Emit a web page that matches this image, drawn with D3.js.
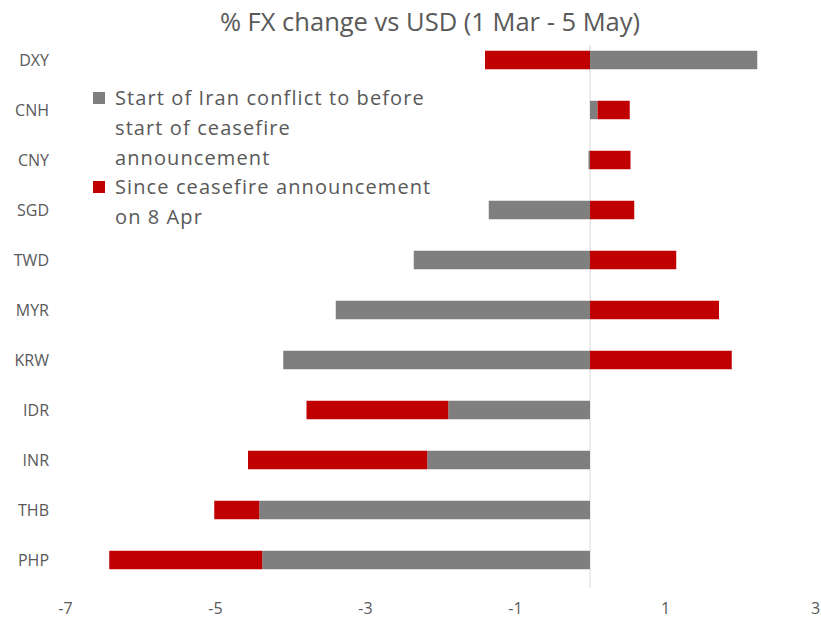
<!DOCTYPE html>
<html>
<head>
<meta charset="utf-8">
<script src="https://cdn.jsdelivr.net/npm/d3@7"></script>
<style>
  body { margin: 0; background: #fff; }
  svg text { fill: #595959; }
</style>
</head>
<body>
<svg id="chart" width="821" height="620"></svg>
<script>
// currencies, top to bottom
var currencies = ["DXY", "CNH", "CNY", "SGD", "TWD", "MYR", "KRW", "IDR", "INR", "THB", "PHP"];
// % change, start of Iran conflict to before ceasefire
var beforeCeasefire = [2.23, 0.1, -0.02, -1.35, -2.35, -3.39, -4.09, -1.89, -2.17, -4.41, -4.37];
// % change since ceasefire announcement on 8 Apr
var sinceCeasefire = [-1.4, 0.43, 0.54, 0.59, 1.15, 1.72, 1.89, -1.89, -2.39, -0.6, -2.04];
var xTicks = [-7, -5, -3, -1, 1, 3];
var seriesNames = ["Start of Iran conflict to before start of ceasefire announcement",
                   "Since ceasefire announcement on 8 Apr"];
var legendLines = [["Start of Iran conflict to before", "start of ceasefire", "announcement"],
                   ["Since ceasefire announcement", "on 8 Apr"]];

var colors = ["#7f7f7f", "#c00000"];
var font = "'Open Sans', sans-serif";

var svg = d3.select("#chart");
var margin = {top: 35, right: 6, bottom: 35, left: 65};

var rows = currencies.map(function (c, i) {
    return {ccy: c, a: beforeCeasefire[i], b: sinceCeasefire[i]};
});

var stack = d3.stack().keys(["a", "b"]).offset(d3.stackOffsetDiverging);
var layers = stack(rows);

var x = d3.scaleLinear().domain([-7, 3]).range([0, 750]);
var y = d3.scaleBand().domain(currencies).range([0, 550]).paddingInner(0.63).paddingOuter(0.315);

var g = svg.append("g").attr("transform", "translate(" + margin.left + "," + margin.top + ")");

// zero line
g.append("line")
    .attr("x1", x(0)).attr("x2", x(0))
    .attr("y1", 10).attr("y2", 553)
    .attr("stroke", "#d9d9d9").attr("stroke-width", 1);

g.selectAll("g.layer")
    .data(layers)
    .enter().append("g")
    .attr("class", "layer")
    .attr("fill", function (d, i) { return colors[i]; })
    .selectAll("rect")
    .data(function (d) { return d; })
    .enter().append("rect")
    .attr("x", function (d) { return x(Math.min(d[0], d[1])); })
    .attr("width", function (d) { return Math.abs(x(d[1]) - x(d[0])); })
    .attr("y", function (d) { return y(d.data.ccy); })
    .attr("height", y.bandwidth());

// category labels
g.selectAll("text.cat")
    .data(currencies)
    .enter().append("text")
    .attr("class", "cat")
    .attr("x", -16)
    .attr("y", function (d) { return y(d) + y.bandwidth() / 2; })
    .attr("dy", "0.35em")
    .attr("text-anchor", "end")
    .style("font-family", font)
    .style("font-size", "16px")
    .text(function (d) { return d; });

// x axis labels
var xAxis = d3.axisBottom(x).tickValues(xTicks).tickSize(0).tickPadding(0)
    .tickFormat(function (d) { return String(d); });
var ax = g.append("g").attr("transform", "translate(0,568)").call(xAxis);
ax.select(".domain").remove();
ax.selectAll("text")
    .attr("dy", "0.7em")
    .style("font-family", font)
    .style("font-size", "16px")
    .style("fill", "#595959");

// title
svg.append("text")
    .attr("x", 430).attr("y", 31)
    .attr("text-anchor", "middle")
    .style("font-family", font)
    .style("font-size", "25.5px")
    .text("% FX change vs USD (1 Mar - 5 May)");

// legend
var legendY = [98, 187];
var lg = svg.append("g");
seriesNames.forEach(function (name, i) {
    lg.append("rect")
        .attr("x", 93).attr("y", legendY[i] - 6)
        .attr("width", 12).attr("height", 12)
        .attr("fill", colors[i]);
    var t = lg.append("text")
        .attr("x", 115).attr("y", legendY[i])
        .style("font-family", font)
        .style("font-size", "20px")
        .style("letter-spacing", "1.1px");
    legendLines[i].forEach(function (line, k) {
        t.append("tspan")
            .attr("x", 115)
            .attr("dy", k === 0 ? "0.35em" : "30px")
            .text(line);
    });
});
</script>
</body>
</html>
